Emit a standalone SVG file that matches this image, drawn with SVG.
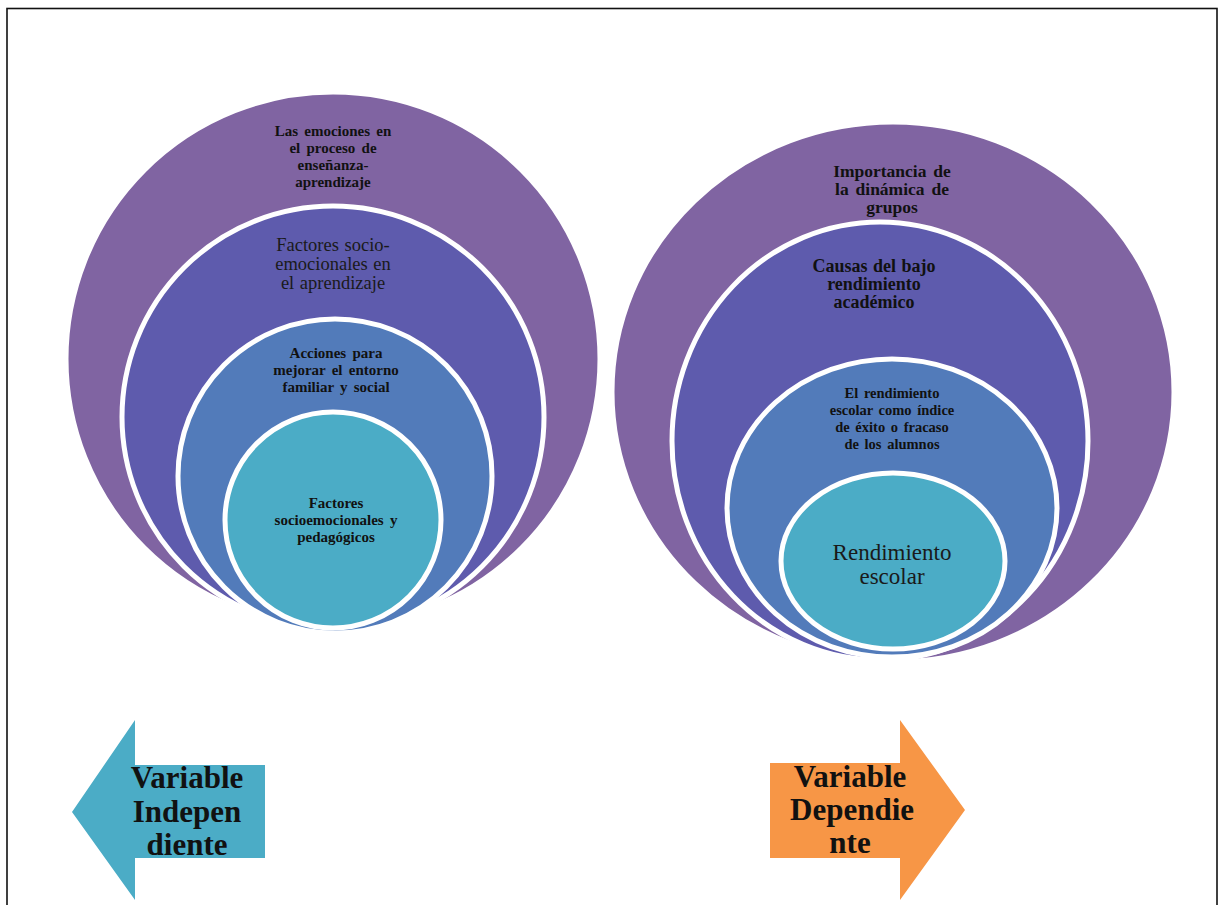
<svg xmlns="http://www.w3.org/2000/svg" width="1220" height="905" viewBox="0 0 1220 905">
<style>
.ring{stroke:#ffffff;stroke-width:5}
.c1{fill:#8064A2}.c2{fill:#5E5BAD}.c3{fill:#527BBA}.c4{fill:#4BACC6}
text{font-family:"Liberation Serif","Times New Roman",serif;fill:#111;text-anchor:middle}
.b{font-weight:bold}
.r{fill:#1a1a1a}
</style>
<rect x="0" y="0" width="1220" height="905" fill="#ffffff"/>
<rect x="7" y="8.5" width="1210" height="920" fill="none" stroke="#111" stroke-width="1.6"/>

<g id="left-c1">
<circle class="ring c1" cx="333" cy="359" r="267"/>
<text class="b" font-size="15" word-spacing="2.5"><tspan x="333" y="136">Las emociones en</tspan><tspan x="333" y="153">el proceso de</tspan><tspan x="333" y="170">enseñanza-</tspan><tspan x="333" y="187">aprendizaje</tspan></text>
</g>
<g id="left-c2">
<circle class="ring c2" cx="333" cy="417" r="211"/>
<text class="r" font-size="18.5" word-spacing="1"><tspan x="333" y="251">Factores socio-</tspan><tspan x="333" y="270">emocionales en</tspan><tspan x="333" y="289">el aprendizaje</tspan></text>
</g>
<g id="left-c3">
<circle class="ring c3" cx="335" cy="476" r="157"/>
<text class="b" font-size="15" word-spacing="2.5"><tspan x="336" y="358">Acciones para</tspan><tspan x="336" y="375">mejorar el entorno</tspan><tspan x="336" y="392">familiar y social</tspan></text>
</g>
<g id="left-c4">
<circle class="ring c4" cx="333" cy="520" r="108"/>
<text class="b" font-size="15" word-spacing="2.5"><tspan x="336" y="508">Factores</tspan><tspan x="336" y="525">socioemocionales y</tspan><tspan x="336" y="542">pedagógicos</tspan></text>
</g>

<g id="right-c1">
<ellipse class="ring c1" cx="893" cy="392" rx="281" ry="270"/>
<text class="b" font-size="17.5" word-spacing="2.5"><tspan x="892" y="177">Importancia de</tspan><tspan x="892" y="195">la dinámica de</tspan><tspan x="892" y="213">grupos</tspan></text>
</g>
<g id="right-c2">
<ellipse class="ring c2" cx="880" cy="441" rx="208" ry="219"/>
<text class="b" font-size="18" word-spacing="1"><tspan x="874" y="272">Causas del bajo</tspan><tspan x="874" y="290">rendimiento</tspan><tspan x="874" y="308">académico</tspan></text>
</g>
<g id="right-c3">
<ellipse class="ring c3" cx="892" cy="508" rx="165" ry="149"/>
<text class="b" font-size="14.5" word-spacing="2"><tspan x="892" y="398">El rendimiento</tspan><tspan x="892" y="415">escolar como índice</tspan><tspan x="892" y="432">de éxito o fracaso</tspan><tspan x="892" y="449">de los alumnos</tspan></text>
</g>
<g id="right-c4">
<ellipse class="ring c4" cx="893" cy="561" rx="112" ry="88"/>
<text class="r" font-size="23"><tspan x="892" y="560">Rendimiento</tspan><tspan x="892" y="584">escolar</tspan></text>
</g>

<g id="arrow-independiente">
<polygon points="72,812 135,720 135,765 265,765 265,858 135,858 135,900" fill="#4BACC6"/>
<text class="b" font-size="31"><tspan x="187" y="788">Variable</tspan><tspan x="187" y="822">Indepen</tspan><tspan x="187" y="855">diente</tspan></text>
</g>
<g id="arrow-dependiente">
<polygon points="770,763 900,763 900,720 965,810 900,900 900,858 770,858" fill="#F79646"/>
<text class="b" font-size="31"><tspan x="850" y="787">Variable</tspan><tspan x="852" y="820">Dependie</tspan><tspan x="850" y="853">nte</tspan></text>
</g>
<g id="connectors"></g>
</svg>
